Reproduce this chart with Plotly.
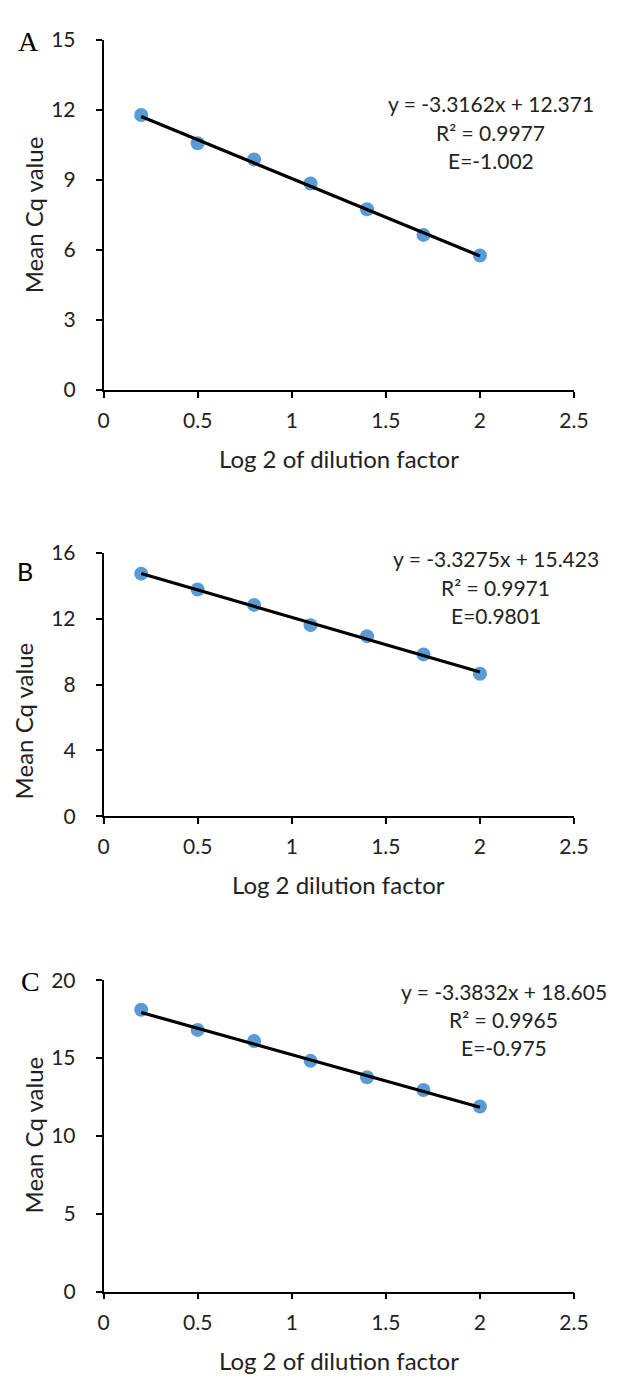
import numpy as np
import plotly.graph_objects as go

W, H = 618, 1385

# ---- data ----
dilution_log2 = [0.2, 0.5, 0.8, 1.1, 1.4, 1.7, 2.0]
cq_A = [11.77, 10.56, 9.87, 8.84, 7.74, 6.64, 5.76]
cq_B = [14.75, 13.79, 12.85, 11.62, 10.95, 9.84, 8.66]
cq_C = [18.10, 16.81, 16.10, 14.82, 13.77, 12.95, 11.89]

slope = [-3.3162, -3.3275, -3.3832]
intercept = [12.371, 15.423, 18.605]
r2 = ["0.9977", "0.9971", "0.9965"]
eff = ["E=-1.002", "E=0.9801", "E=-0.975"]
panel_letters = ["A", "B", "C"]
x_titles = ["Log 2 of dilution factor", "Log 2 dilution factor", "Log 2 of dilution factor"]
y_title = "Mean Cq value"
y_max = [15, 16, 20]
y_dtick = [3, 4, 5]
x_ticks = [0, 0.5, 1, 1.5, 2, 2.5]

# ---- layout geometry (pixels) ----
x_left, x_right = 101, 588
panels = [  # top, bottom pixel of plot area
    (26, 383),
    (549, 817),
    (984, 1301),
]
eq_pos = [(502, [91, 121, 149]), (507, [555, 584, 613]), (515, [995, 1024, 1053])]
letter_pos = [(23, 28), (20, 567), (25, 985)]
letter_font = ["Liberation Serif", "Lato", "Liberation Serif"]
letter_size = [28, 25, 28]
ytitle_pos = [(28, 205), (18, 720), (28, 1142)]

FONT = "Lato"
TXT = "#222222"
BLUE = "#5B9BD5"

fig = go.Figure()
annotations = []
datasets = [cq_A, cq_B, cq_C]

for i in range(3):
    ax = "" if i == 0 else str(i + 1)
    xa, ya = "x" + ax, "y" + ax
    top, bot = panels[i]
    # points
    fig.add_trace(go.Scatter(
        x=dilution_log2, y=datasets[i], mode="markers",
        marker=dict(color=BLUE, size=14, line=dict(width=0)),
        xaxis=xa, yaxis=ya, showlegend=False, cliponaxis=False))
    # trendline
    xs = np.array([dilution_log2[0], dilution_log2[-1]])
    ys = slope[i] * xs + intercept[i]
    fig.add_trace(go.Scatter(
        x=xs, y=ys, mode="lines", line=dict(color="black", width=3.2),
        xaxis=xa, yaxis=ya, showlegend=False, cliponaxis=False))

    dom_y = [1 - bot / H, 1 - top / H]
    axis_common = dict(
        showgrid=False, zeroline=False, showline=True, linecolor="black",
        linewidth=1.6, ticks="outside", ticklen=6, tickwidth=1.6, tickcolor="black",
        tickfont=dict(family=FONT, size=21, color=TXT),
    )
    fig.layout["xaxis" + ax] = dict(
        domain=[x_left / W, x_right / W], range=[0, 2.5], tickvals=x_ticks,
        ticktext=[f"{v:g}" for v in x_ticks], anchor=ya, ticklabelstandoff=5,
        **axis_common)
    fig.layout["yaxis" + ax] = dict(
        domain=dom_y, range=[0, y_max[i]], dtick=y_dtick[i], tick0=0,
        anchor=xa, ticklabelstandoff=16, **axis_common)

    # x title
    annotations.append(dict(
        text=x_titles[i], x=(x_left + x_right) / 2 / W, y=1 - (bot + 70) / H,
        xref="paper", yref="paper", showarrow=False, xanchor="center", yanchor="middle",
        font=dict(family=FONT, size=24, color=TXT)))
    # y title
    annotations.append(dict(
        text=y_title, x=ytitle_pos[i][0] / W, y=1 - ytitle_pos[i][1] / H, textangle=-90,
        xref="paper", yref="paper", showarrow=False, xanchor="center", yanchor="middle",
        font=dict(family=FONT, size=24, color=TXT)))
    # panel letter
    annotations.append(dict(
        text=panel_letters[i], x=letter_pos[i][0] / W, y=1 - letter_pos[i][1] / H,
        xref="paper", yref="paper", showarrow=False, xanchor="center", yanchor="middle",
        font=dict(family=letter_font[i], size=letter_size[i], color="black")))
    # equation block
    sign = "-" if slope[i] < 0 else ""
    lines = [f"y = {sign}{abs(slope[i])}x + {intercept[i]:.3f}", f"R² = {r2[i]}", eff[i]]
    cx, ys_px = eq_pos[i]
    for t, yp in zip(lines, ys_px):
        annotations.append(dict(
            text=t, x=cx / W, y=1 - yp / H, xref="paper", yref="paper",
            showarrow=False, xanchor="center", yanchor="middle",
            font=dict(family=FONT, size=21, color=TXT)))

fig.update_layout(
    width=W, height=H, margin=dict(l=0, r=0, t=0, b=0),
    paper_bgcolor="white", plot_bgcolor="white",
    annotations=annotations, showlegend=False,
)

fig.write_html("out.html")
